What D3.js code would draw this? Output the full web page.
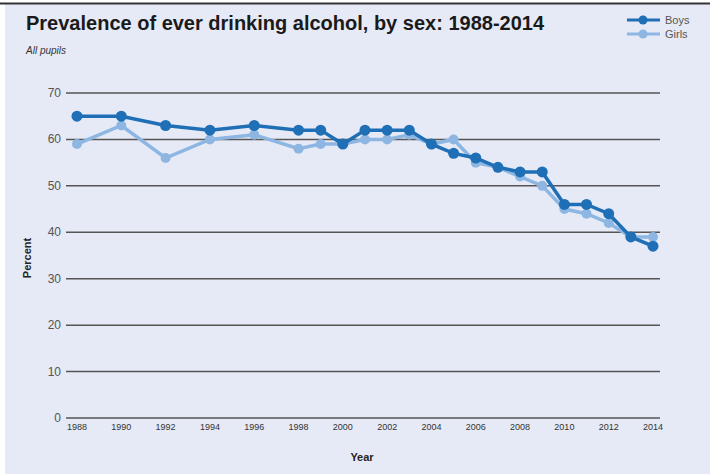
<!DOCTYPE html>
<html>
<head>
<meta charset="utf-8">
<script src="https://cdn.jsdelivr.net/npm/d3@7"></script>
<style>
  body { margin: 0; background: #fff; }
  svg { display: block; font-family: "Liberation Sans", Arial, sans-serif; }
</style>
</head>
<body>
<div id="chart"></div>
<script>
// data
var years = [1988, 1990, 1992, 1994, 1996, 1998, 1999, 2000, 2001, 2002, 2003, 2004, 2005, 2006, 2007, 2008, 2009, 2010, 2011, 2012, 2013, 2014];
var boys  = [65, 65, 63, 62, 63, 62, 62, 59, 62, 62, 62, 59, 57, 56, 54, 53, 53, 46, 46, 44, 39, 37];
var girls = [59, 63, 56, 60, 61, 58, 59, 59, 60, 60, 61, 59, 60, 55, 54, 52, 50, 45, 44, 42, 39, 39];
var yTicks = [0, 10, 20, 30, 40, 50, 60, 70];
var xTicks = [1988, 1990, 1992, 1994, 1996, 1998, 2000, 2002, 2004, 2006, 2008, 2010, 2012, 2014];

var w = 710, h = 474;
var boysColor = "#1f6fb6", girlsColor = "#8db6e2";

var svg = d3.select("#chart").append("svg")
  .attr("width", w)
  .attr("height", h);

// panel background and top rule
svg.append("rect").attr("x", 5).attr("y", 3).attr("width", w - 5).attr("height", h - 3).attr("fill", "#e6eaf6");
svg.append("line").attr("x1", 0).attr("x2", w).attr("y1", 3.5).attr("y2", 3.5)
  .attr("stroke", "#333").attr("stroke-width", 2);

var x = d3.scaleLinear().domain([1988, 2014]).range([77, 653]);
var y = d3.scaleLinear().domain([0, 70]).range([418, 93]);

// gridlines
svg.append("g").selectAll("line")
  .data(yTicks)
  .enter().append("line")
  .attr("x1", 66).attr("x2", 660)
  .attr("y1", function(d) { return y(d); })
  .attr("y2", function(d) { return y(d); })
  .attr("stroke", "#555")
  .attr("stroke-width", 1.5);

// y labels
svg.append("g").selectAll("text")
  .data(yTicks)
  .enter().append("text")
  .attr("x", 61)
  .attr("y", function(d) { return y(d) + 4; })
  .attr("text-anchor", "end")
  .attr("font-size", 12)
  .attr("fill", "#555")
  .text(function(d) { return d; });

// x labels
svg.append("g").selectAll("text")
  .data(xTicks)
  .enter().append("text")
  .attr("x", function(d) { return x(d); })
  .attr("y", 430)
  .attr("text-anchor", "middle")
  .attr("font-size", 9)
  .attr("fill", "#333")
  .text(function(d) { return d; });

// axis titles
svg.append("text").attr("x", 362).attr("y", 461).attr("text-anchor", "middle")
  .attr("font-size", 11).attr("font-weight", "bold").attr("fill", "#222").text("Year");
svg.append("text").attr("transform", "translate(31,258) rotate(-90)").attr("text-anchor", "middle")
  .attr("font-size", 11).attr("font-weight", "bold").attr("fill", "#222").text("Percent");

// title
svg.append("text").attr("x", 26).attr("y", 30)
  .attr("font-size", 20).attr("font-weight", "bold").attr("fill", "#1a1a1a")
  .text("Prevalence of ever drinking alcohol, by sex: 1988-2014");
svg.append("text").attr("x", 26).attr("y", 54)
  .attr("font-size", 10).attr("font-style", "italic").attr("fill", "#333")
  .text("All pupils");

// lines
var line = d3.line()
  .x(function(d, i) { return x(years[i]); })
  .y(function(d) { return y(d); });

function drawSeries(vals, color, r) {
  svg.append("path")
    .datum(vals)
    .attr("d", line)
    .attr("fill", "none")
    .attr("stroke", color)
    .attr("stroke-width", 3.5);
  svg.append("g").selectAll("circle")
    .data(vals)
    .enter().append("circle")
    .attr("cx", function(d, i) { return x(years[i]); })
    .attr("cy", function(d) { return y(d); })
    .attr("r", r)
    .attr("fill", color);
}
drawSeries(girls, girlsColor, 5);
drawSeries(boys, boysColor, 5.5);

// legend
var legend = [{name: "Boys", color: boysColor, y: 20}, {name: "Girls", color: girlsColor, y: 34}];
var lg = svg.append("g").selectAll("g").data(legend).enter().append("g");
lg.append("line").attr("x1", 627).attr("x2", 660)
  .attr("y1", function(d) { return d.y; }).attr("y2", function(d) { return d.y; })
  .attr("stroke", function(d) { return d.color; }).attr("stroke-width", 3);
lg.append("circle").attr("cx", 643).attr("cy", function(d) { return d.y; }).attr("r", 4.5)
  .attr("fill", function(d) { return d.color; });
lg.append("text").attr("x", 665).attr("y", function(d) { return d.y + 4; })
  .attr("font-size", 11).attr("fill", "#555").text(function(d) { return d.name; });
</script>
</body>
</html>
